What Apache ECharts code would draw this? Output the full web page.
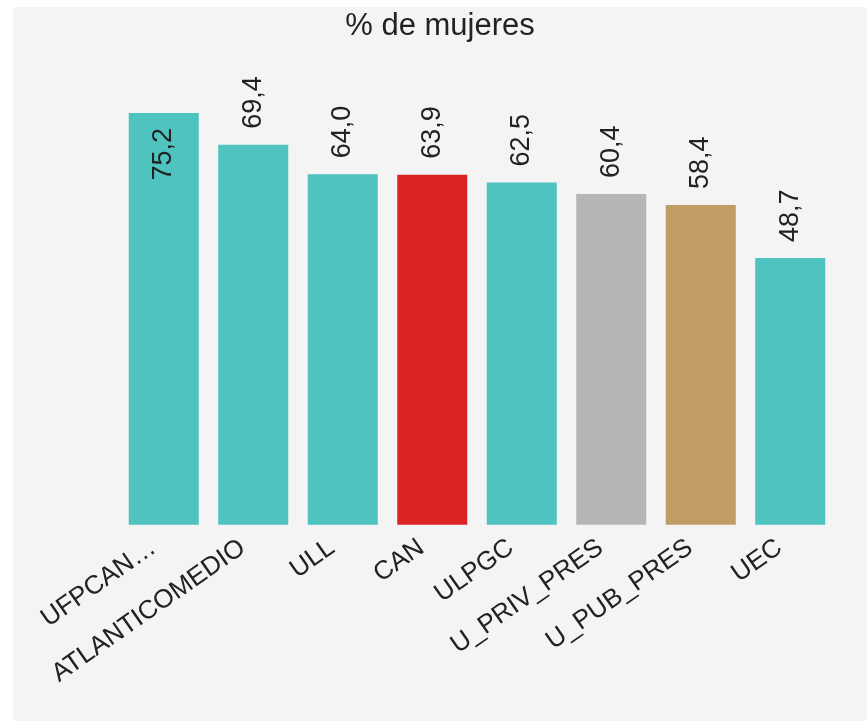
<!DOCTYPE html>
<html>
<head>
<meta charset="utf-8">
<script src="https://cdn.jsdelivr.net/npm/echarts@6/dist/echarts.min.js"></script>
<style>
html,body{margin:0;padding:0;background:#ffffff;}
#chart{position:absolute;left:13px;top:7px;width:854px;height:714px;background:#f4f4f4;}
</style>
</head>
<body>
<div id="chart"></div>
<script>
const categories = ['UFPCAN…','ATLANTICOMEDIO','ULL','CAN','ULPGC','U_PRIV_PRES','U_PUB_PRES','UEC'];
const values = [75.2, 69.4, 64.0, 63.9, 62.5, 60.4, 58.4, 48.7];
const barColors = ['#4ec3bf','#4ec3bf','#4ec3bf','#dc2323','#4ec3bf','#b6b6b6','#bf9d65','#4ec3bf'];
const titleText = '% de mujeres';

const chart = echarts.init(document.getElementById('chart'), null, {renderer:'canvas'});
const maxV = Math.max(...values);
const fmt = v => v.toFixed(1).replace('.', ',');
const font = 'Liberation Sans, Arial, sans-serif';

const data = values.map((v, i) => {
  const item = { value: v, itemStyle: { color: barColors[i] } };
  if (v === maxV) {
    item.label = { position: 'insideTop', align: 'right', verticalAlign: 'middle', distance: 15 };
  }
  return item;
});

chart.setOption({
  backgroundColor: '#f4f4f4',
  animation: false,
  title: {
    text: titleText,
    left: 'center',
    top: -1,
    textStyle: { fontFamily: font, fontSize: 31, fontWeight: 'normal', color: '#222222' }
  },
  grid: { left: 106, right: 32, top: 106, bottom: 196.3, containLabel: false },
  xAxis: {
    type: 'category',
    data: categories,
    axisLine: { show: false },
    axisTick: { show: false },
    axisLabel: {
      interval: 0,
      rotate: 35,
      margin: 13,
      padding: [0, 13, 0, 0],
      fontFamily: font,
      fontSize: 26,
      color: '#222222'
    }
  },
  yAxis: {
    type: 'value',
    min: 0,
    max: v => v.max,
    show: false,
    splitLine: { show: false }
  },
  series: [{
    type: 'bar',
    data: data,
    barWidth: 70,
    label: {
      show: true,
      position: 'top',
      rotate: 90,
      align: 'left',
      verticalAlign: 'middle',
      distance: 16,
      fontFamily: font,
      fontSize: 27,
      color: '#222222',
      formatter: p => fmt(p.value)
    }
  }]
});
</script>
</body>
</html>
